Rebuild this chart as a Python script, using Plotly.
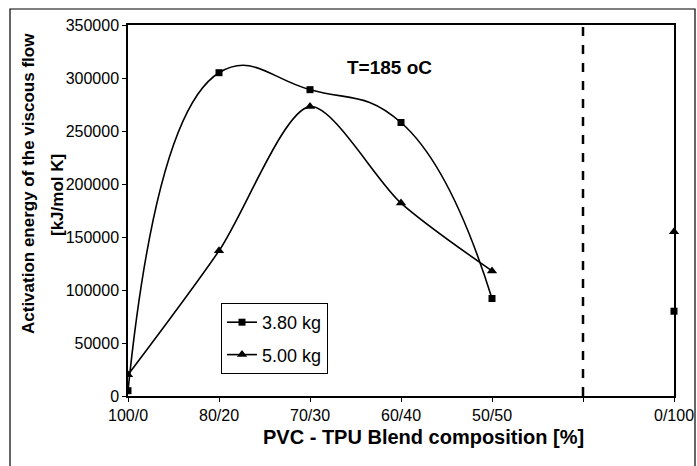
import plotly.graph_objects as go

categories = ["100/0", "80/20", "70/30", "60/40", "50/50", "", "0/100"]
blend_cats = ["100/0", "80/20", "70/30", "60/40", "50/50"]
kg380_blend = [5000, 305000, 289000, 258000, 92000]
kg500_blend = [20000, 137000, 273000, 182000, 118000]
pure_cat = ["0/100"]
kg380_pure = [80000]
kg500_pure = [155000]
y_ticks = [0, 50000, 100000, 150000, 200000, 250000, 300000, 350000]

pos = {c: i for i, c in enumerate(categories)}
FONT = "Liberation Sans, Arial, sans-serif"

fig = go.Figure()
fig.add_trace(go.Scatter(
    x=[pos[c] for c in blend_cats], y=kg380_blend, name="3.80 kg", legendgroup="a",
    mode="lines+markers", line=dict(color="black", width=1.6, shape="spline", smoothing=1.3),
    marker=dict(symbol="square", size=7, color="black")))
fig.add_trace(go.Scatter(
    x=[pos[c] for c in blend_cats], y=kg500_blend, name="5.00 kg", legendgroup="b",
    mode="lines+markers", line=dict(color="black", width=1.6, shape="spline", smoothing=0.8),
    marker=dict(symbol="triangle-up", size=9, color="black")))
fig.add_trace(go.Scatter(
    x=[pos[c] for c in pure_cat], y=kg380_pure, mode="markers", showlegend=False,
    marker=dict(symbol="square", size=7, color="black"), cliponaxis=False))
fig.add_trace(go.Scatter(
    x=[pos[c] for c in pure_cat], y=kg500_pure, mode="markers", showlegend=False,
    marker=dict(symbol="triangle-up", size=9, color="black"), cliponaxis=False))

# dashed separator
fig.add_shape(type="line", xref="x", yref="paper", x0=pos[""], x1=pos[""], y0=0, y1=1,
              line=dict(color="black", width=2.5, dash="dash"))
# outer frame
L, R, T, B = 128, 674, 25, 396
def px(xp): return (xp - L) / (R - L)
def py(yp): return (B - yp) / (B - T)
fig.add_shape(type="rect", xref="paper", yref="paper", x0=px(10), x1=px(695), y0=py(468), y1=py(9),
              line=dict(color="black", width=1.2), layer="below")

def note(x, y, text, size, angle=0):
    fig.add_annotation(x=px(x), y=py(y), xref="paper", yref="paper", text=text,
                       xanchor="center", yanchor="middle", textangle=angle,
                       showarrow=False, font=dict(size=size, color="black", family=FONT))

note(389, 67, "<b>T=185 oC</b>", 19)
note(423, 437, "<b>PVC - TPU Blend composition [%]</b>", 20)
note(28, 184, "<b>Activation energy of the viscous flow</b>", 17, -90)
note(57, 195, "<b>[kJ/mol K]</b>", 17, -90)

fig.update_layout(
    width=697, height=466, margin=dict(l=L, r=697 - R, t=T, b=466 - B),
    paper_bgcolor="white", plot_bgcolor="white",
    font=dict(family=FONT, size=15, color="black"),
    legend=dict(x=px(221), y=py(303), xanchor="left", yanchor="top",
                bordercolor="black", borderwidth=1, bgcolor="white",
                font=dict(size=18), tracegroupgap=6),
    xaxis=dict(range=[0, 6], tickmode="array", tickvals=list(range(7)), ticktext=categories,
               showgrid=False, zeroline=False, showline=True, linecolor="black", linewidth=1.5,
               mirror=True, ticks="outside", ticklen=4, tickcolor="black", automargin=False,
               tickfont=dict(size=16)),
    yaxis=dict(range=[0, 350000], tickvals=y_ticks, tickformat="d",
               showgrid=False, zeroline=False, showline=True, linecolor="black", linewidth=1.5,
               mirror=True, ticks="outside", ticklen=4, tickcolor="black", automargin=False,
               tickfont=dict(size=16)),
)
fig.write_html("out.html")
